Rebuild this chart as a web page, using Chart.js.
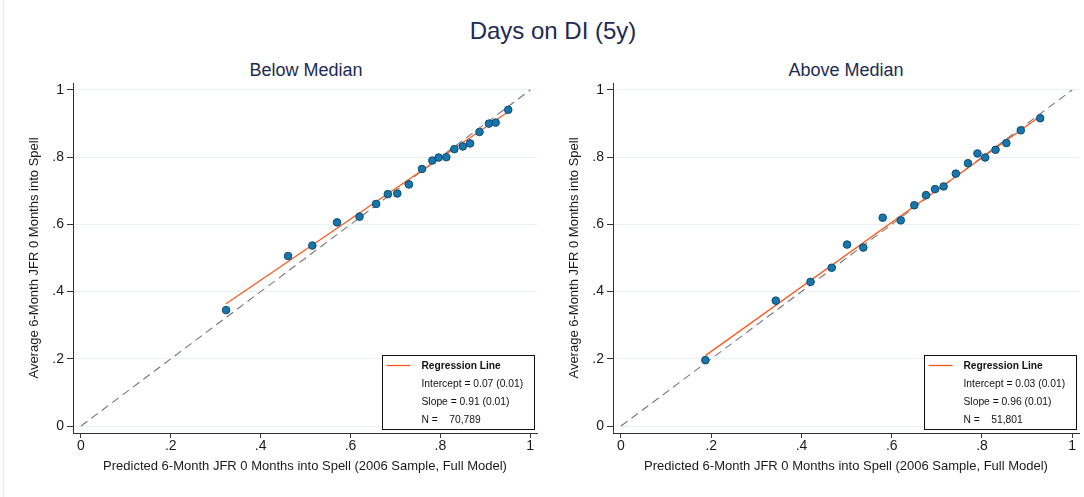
<!DOCTYPE html>
<html>
<head>
<meta charset="utf-8">
<script src="https://cdn.jsdelivr.net/npm/chart.js@4.4.1/dist/chart.umd.min.js"></script>
<style>
  body { margin: 0; background: #fff; }
  #wrap { position: relative; width: 1084px; height: 497px; background: #fff; overflow: hidden;
          font-family: "Liberation Sans", Arial, sans-serif; }
  #wrap::before { content: ""; position: absolute; left: 3px; top: 0; bottom: 0; border-left: 1px solid #e9e9e9; }
  .ttl { position: absolute; text-align: center; color: #1d2b54; line-height: 1; white-space: nowrap; }
  canvas { position: absolute; top: 0; }
</style>
</head>
<body>
<div id="wrap">
  <div class="ttl" style="left:253px;width:600px;top:19px;font-size:24px;">Days on DI (5y)</div>
  <div class="ttl" style="left:106px;width:400px;top:61px;font-size:18px;">Below Median</div>
  <div class="ttl" style="left:646px;width:400px;top:61px;font-size:18px;">Above Median</div>
  <canvas id="below" width="542" height="497" style="left:0"></canvas>
  <canvas id="above" width="542" height="497" style="left:542px"></canvas>
</div>
<script>
// predicted (x) and observed (y) job-finding rates by bin
const predBelow = [0.323, 0.461, 0.515, 0.570, 0.620, 0.657, 0.683, 0.704, 0.730, 0.759,
                   0.782, 0.796, 0.813, 0.831, 0.850, 0.866, 0.887, 0.908, 0.923, 0.951];
const actualBelow = [0.345, 0.506, 0.537, 0.606, 0.623, 0.661, 0.690, 0.692, 0.719, 0.765,
                     0.790, 0.799, 0.800, 0.824, 0.832, 0.841, 0.875, 0.900, 0.903, 0.941];

const predAbove = [0.187, 0.343, 0.420, 0.467, 0.501, 0.537, 0.580, 0.620, 0.650, 0.676,
                   0.696, 0.715, 0.742, 0.769, 0.790, 0.807, 0.830, 0.854, 0.886, 0.929];
const actualAbove = [0.196, 0.373, 0.429, 0.471, 0.540, 0.531, 0.620, 0.612, 0.657, 0.687,
                     0.705, 0.713, 0.751, 0.782, 0.811, 0.799, 0.822, 0.842, 0.880, 0.916];

// regression: [intercept, slope], standard errors, N
const fitBelow = [0.07, 0.91];
const seBelow = ['0.01', '0.01'];
const nBelow = '70,789';
const fitAbove = [0.03, 0.96];
const seAbove = ['0.01', '0.01'];
const nAbove = '51,801';

const tickValues = [0, 0.2, 0.4, 0.6, 0.8, 1];
const tickLabels = ['0', '.2', '.4', '.6', '.8', '1'];

const FONT = '"Liberation Sans", Arial, sans-serif';
const xTitle = 'Predicted 6-Month JFR 0 Months into Spell (2006 Sample, Full Model)';
const yTitle = 'Average 6-Month JFR 0 Months into Spell';

// boxed legend in the lower right corner of the plot
const fitLegend = {
  id: 'fitLegend',
  afterDraw(chart, args, opts) {
    const { ctx, chartArea } = chart;
    const w = 152, h = 74;
    const x0 = chartArea.right - 3.5 - w;
    const y0 = chartArea.bottom - 4.5 - h;
    ctx.save();
    ctx.fillStyle = '#fff';
    ctx.fillRect(x0, y0, w, h);
    ctx.strokeStyle = '#111';
    ctx.lineWidth = 1;
    ctx.strokeRect(Math.round(x0) + 0.5, Math.round(y0) + 0.5, w, h);

    ctx.strokeStyle = '#fa5a1e';
    ctx.lineWidth = 1.3;
    ctx.beginPath();
    ctx.moveTo(x0 + 5, y0 + 11);
    ctx.lineTo(x0 + 29, y0 + 11);
    ctx.stroke();

    ctx.fillStyle = '#111';
    ctx.textBaseline = 'middle';
    ctx.font = 'bold 10.2px ' + FONT;
    ctx.fillText('Regression Line', x0 + 40, y0 + 11.5);
    ctx.font = '10.3px ' + FONT;
    ctx.fillText('Intercept = ' + opts.fit[0].toFixed(2) + ' (' + opts.se[0] + ')', x0 + 40, y0 + 29.5);
    ctx.fillText('Slope = ' + opts.fit[1].toFixed(2) + ' (' + opts.se[1] + ')', x0 + 40, y0 + 47.5);
    ctx.fillText('N =', x0 + 40, y0 + 65.3);
    ctx.fillText(opts.n, x0 + 67.7, y0 + 65.3);
    ctx.restore();
  }
};

function makeChart(id, preds, actuals, fit, se, n, yAxisW, yTitlePad, rightPad) {
  const lo = Math.min(...preds), hi = Math.max(...preds);
  const points = preds.map((p, i) => ({ x: p, y: actuals[i] }));
  const regLine = [lo, hi].map(p => ({ x: p, y: fit[0] + fit[1] * p }));
  const diag = [{ x: 0, y: 0 }, { x: 1, y: 1 }];

  return new Chart(document.getElementById(id), {
    type: 'scatter',
    data: {
      datasets: [
        {
          data: points,
          pointRadius: 3.8,
          pointBackgroundColor: '#1777ad',
          pointBorderColor: '#0e4a6e',
          pointBorderWidth: 1,
          order: 0
        },
        {
          data: regLine,
          showLine: true,
          borderColor: '#fa5a1e',
          borderWidth: 1.3,
          pointRadius: 0,
          order: 1
        },
        {
          data: diag,
          showLine: true,
          borderColor: '#777',
          borderWidth: 1.1,
          borderDash: [8, 5],
          pointRadius: 0,
          order: 2
        }
      ]
    },
    options: {
      responsive: false,
      animation: false,
      devicePixelRatio: 1,
      layout: { padding: { top: 83, right: rightPad, left: 0, bottom: 0 } },
      plugins: {
        legend: { display: false },
        tooltip: { enabled: false },
        fitLegend: { fit: fit, se: se, n: n }
      },
      scales: {
        x: {
          type: 'linear',
          min: -0.0177,
          max: 1.015,
          afterBuildTicks: s => { s.ticks = tickValues.map(v => ({ value: v })); },
          afterFit: s => { s.height = 64; },
          ticks: {
            callback: v => tickLabels[tickValues.indexOf(v)],
            font: { family: FONT, size: 14 },
            color: '#1a1a1a',
            padding: 0,
            maxRotation: 0,
            autoSkip: false
          },
          grid: { drawOnChartArea: false, tickLength: 5, tickColor: '#333', tickWidth: 1 },
          border: { color: '#333', width: 1 },
          title: {
            display: true,
            text: xTitle,
            font: { family: FONT, size: 13 },
            color: '#1a1a1a',
            padding: { top: 0, bottom: 23 }
          }
        },
        y: {
          type: 'linear',
          min: -0.0208,
          max: 1.0208,
          afterBuildTicks: s => { s.ticks = tickValues.map(v => ({ value: v })); },
          afterFit: s => { s.width = yAxisW; },
          ticks: {
            callback: v => tickLabels[tickValues.indexOf(v)],
            font: { family: FONT, size: 14 },
            color: '#1a1a1a',
            padding: 3,
            autoSkip: false
          },
          grid: { color: '#eaf1f2', lineWidth: 1, tickLength: 6, tickColor: '#333', tickWidth: 1 },
          border: { color: '#333', width: 1 },
          title: {
            display: true,
            text: yTitle,
            font: { family: FONT, size: 13 },
            color: '#1a1a1a',
            padding: { top: yTitlePad, bottom: 0 }
          }
        }
      }
    },
    plugins: [fitLegend]
  });
}

makeChart('below', predBelow, actualBelow, fitBelow, seBelow, nBelow, 73, 27, 2);
makeChart('above', predAbove, actualAbove, fitAbove, seAbove, nAbove, 71, 25, 4);
</script>
</body>
</html>
